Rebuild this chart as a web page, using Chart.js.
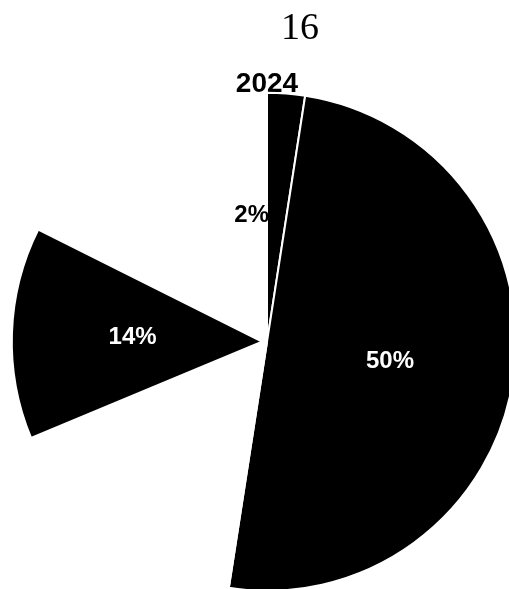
<!DOCTYPE html>
<html lang="es">
<head>
<meta charset="utf-8">
<title>16</title>
<script src="https://cdn.jsdelivr.net/npm/chart.js@4.4.1/dist/chart.umd.min.js"></script>
<style>
    html, body { margin: 0; padding: 0; background: #fff; overflow: hidden; }
    #contenedor { width: 509px; height: 589px; position: relative; }
</style>
</head>
<body>
<div id="contenedor"><canvas id="grafico"></canvas></div>
<script>
// --- DATOS ---
const titulo = '16';
const subtitulo = '2024';
const porciones = ['A', 'B', 'C', 'D', 'E'];
const valores = [2.45, 50, 16.25, 13.7, 17.6];
const coloresPorcion = ['#000000', '#000000', '#ffffff', '#000000', '#ffffff'];
const coloresEtiqueta = ['#000000', '#ffffff', null, '#ffffff', null];
const desplazamientos = [0, 0, 0, 20, 0];

// Etiquetas de porcentaje sobre cada porción visible
const etiquetasPorcentaje = {
    id: 'etiquetasPorcentaje',
    afterDatasetsDraw(chart) {
        const ctx = chart.ctx;
        const arcos = chart.getDatasetMeta(0).data;
        ctx.save();
        ctx.font = 'bold 24px "Liberation Sans", Arial, sans-serif';
        ctx.textBaseline = 'middle';
        arcos.forEach((arco, i) => {
            if (!coloresEtiqueta[i]) return;
            const pos = arco.tooltipPosition();
            const texto = Math.round(valores[i]) + '%';
            ctx.fillStyle = coloresEtiqueta[i];
            // la porción pequeña lleva la etiqueta a su izquierda
            if (valores[i] < 5) {
                ctx.textAlign = 'right';
                ctx.fillText(texto, arco.x + 2, pos.y - 2);
            } else {
                ctx.textAlign = 'center';
                ctx.fillText(texto, pos.x, pos.y);
            }
        });
        ctx.restore();
    }
};

// Título en serif, algo corrido a la derecha del centro
const tituloSerif = {
    id: 'tituloSerif',
    afterDraw(chart) {
        const ctx = chart.ctx;
        ctx.save();
        ctx.font = '38px "Liberation Serif", "Times New Roman", serif';
        ctx.fillStyle = '#000';
        ctx.textAlign = 'center';
        ctx.textBaseline = 'alphabetic';
        ctx.fillText(titulo, 300, 39);
        ctx.restore();
    }
};

new Chart(document.getElementById('grafico'), {
    type: 'pie',
    data: {
        labels: porciones,
        datasets: [{
            data: valores,
            backgroundColor: coloresPorcion,
            borderColor: '#ffffff',
            borderWidth: 2,
            offset: desplazamientos,
            clip: false
        }]
    },
    options: {
        responsive: true,
        maintainAspectRatio: false,
        animation: false,
        events: [],
        radius: 249,
        rotation: 0,
        layout: { padding: { top: 67, left: 25, right: 0, bottom: 6 } },
        plugins: {
            legend: { display: false },
            tooltip: { enabled: false },
            title: { display: false },
            subtitle: {
                display: true,
                text: subtitulo,
                color: '#000',
                padding: 0,
                font: { family: '"Liberation Sans", Arial, sans-serif', size: 28, weight: 'bold', lineHeight: 1.2 }
            }
        }
    },
    plugins: [etiquetasPorcentaje, tituloSerif]
});
</script>
</body>
</html>
